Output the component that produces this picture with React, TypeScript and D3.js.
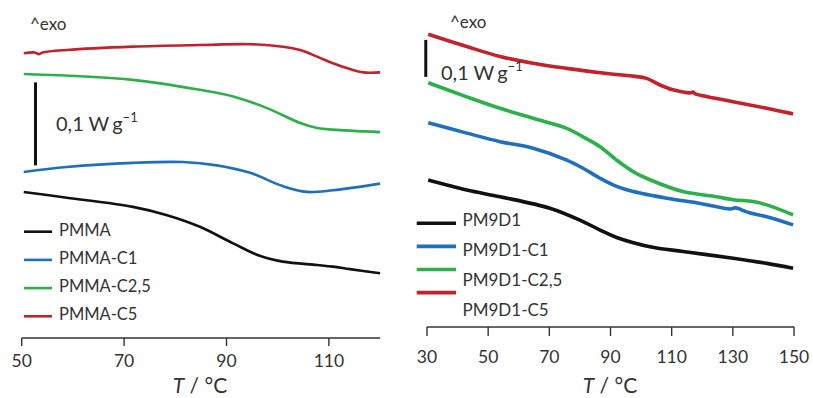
import React from "react";
import * as d3 from "d3";

type P = [number, number];

// Left panel (PMMA series): [T °C, heat flow W/g (offset)]
const pmma: P[] = [[50.4,0.176],[58.8,0.169],[71.7,0.158],[78.4,0.148],[84.8,0.134],[91.3,0.114],[96.5,0.099],[101,0.092],[107.7,0.088],[110.8,0.086],[114.1,0.083],[120,0.078]];
const pmmaC1: P[] = [[50.4,0.2],[58.8,0.206],[71.7,0.211],[81.5,0.212],[88.1,0.208],[94.6,0.199],[101,0.183],[105.7,0.176],[110.8,0.178],[120,0.186]];
const pmmaC25: P[] = [[50.4,0.318],[71.7,0.311],[84.8,0.299],[91.3,0.291],[97.9,0.277],[104.4,0.259],[107.7,0.253],[110.8,0.251],[120,0.248]];
const pmmaC5: P[] = [[50.4,0.343],[52.6,0.344],[53.3,0.342],[54.1,0.344],[58.8,0.347],[71.7,0.351],[84.8,0.353],[94.6,0.354],[101,0.351],[104.4,0.347],[107.7,0.339],[110.8,0.331],[114.1,0.324],[116.7,0.32],[120,0.32]];

// Right panel (PM9D1 series)
const pm9d1: P[] = [[30.4,0.397],[43,0.37],[53.9,0.352],[70.2,0.321],[81,0.285],[86.6,0.262],[92,0.242],[102.9,0.217],[113.7,0.204],[130.1,0.186],[141.1,0.172],[149.7,0.159]];
const pm9d1C1: P[] = [[30.4,0.552],[43,0.524],[53.9,0.501],[64.7,0.483],[75.7,0.451],[81,0.429],[86.6,0.402],[92,0.38],[97.4,0.366],[108.4,0.348],[119.4,0.334],[129.2,0.319],[130.6,0.322],[131.6,0.321],[133,0.316],[135.7,0.308],[141.1,0.298],[149.7,0.276]];
const pm9d1C25: P[] = [[30.4,0.66],[43,0.622],[53.9,0.591],[64.7,0.564],[75.7,0.537],[81,0.514],[86.6,0.487],[92,0.451],[97.4,0.42],[102.9,0.398],[113.7,0.366],[124.7,0.352],[130.1,0.344],[136.6,0.339],[141.1,0.33],[149.7,0.303]];
const pm9d1C5: P[] = [[30.4,0.791],[43,0.758],[53.9,0.731],[64.7,0.713],[75.7,0.699],[86.6,0.687],[97.4,0.678],[101.8,0.672],[106.2,0.654],[110.4,0.641],[116.4,0.633],[117,0.635],[117.6,0.631],[130.1,0.609],[141.1,0.591],[149.7,0.576]];

const leftNames = ["PMMA", "PMMA-C1", "PMMA-C2,5", "PMMA-C5"];
const rightNames = ["PM9D1", "PM9D1-C1", "PM9D1-C2,5", "PM9D1-C5"];
const colors = ["#111111", "#1e6fbf", "#2cb04a", "#c4222b"];
const leftTicks = [50, 70, 90, 110];
const rightTicks = [30, 50, 70, 90, 110, 130, 150];
const scaleBarLeft: P = [52.7, 0.208];
const scaleBarRight: P = [29.6, 0.676];
const scaleBarLen = 0.1;

const FONT = "Lato, 'Open Sans', sans-serif";
const TXT = "#333";

export default function App() {
  const xL = d3.scaleLinear().domain([50, 120]).range([21.7, 380.1]);
  const yL = d3.scaleLinear().domain([0, 0.4]).range([338, 6]);
  const xR = d3.scaleLinear().domain([30, 150]).range([427, 794]);
  const yR = d3.scaleLinear().domain([0, 0.85]).range([327, 12.5]);

  const curve = d3.curveCatmullRom.alpha(0.5);
  const lineL = d3.line<P>().x(d => xL(d[0])).y(d => yL(d[1])).curve(curve);
  const lineR = d3.line<P>().x(d => xR(d[0])).y(d => yR(d[1])).curve(curve);

  const leftSeries = [pmma, pmmaC1, pmmaC25, pmmaC5];
  const rightSeries = [pm9d1, pm9d1C1, pm9d1C25, pm9d1C5];

  return (
    <svg width={813} height={398} style={{ position: "absolute", left: 0, top: 0, background: "#fff" }} fontFamily={FONT}>
      {/* Left panel */}
      <text x={30} y={30} fontSize={17} fill={TXT}>^exo</text>
      {leftSeries.map((s, i) => (
        <path key={i} d={lineL(s) || ""} fill="none" stroke={colors[i]} strokeWidth={2.6} />
      ))}
      <line x1={xL(scaleBarLeft[0])} x2={xL(scaleBarLeft[0])} y1={yL(scaleBarLeft[1])} y2={yL(scaleBarLeft[1] + scaleBarLen)} stroke="#111" strokeWidth={3} />
      <text x={56} y={131} fontSize={20} fill={TXT}>0,1 W<tspan dx={4}>g</tspan><tspan fontSize={13} dy={-9}>−1</tspan></text>
      {leftNames.map((n, i) => (
        <g key={n}>
          <line x1={24} x2={52} y1={231.7 + i * 28.2} y2={231.7 + i * 28.2} stroke={colors[i]} strokeWidth={2.6} />
          <text x={59} y={235.5 + i * 28.2} fontSize={16.5} fill={TXT}>{n}</text>
        </g>
      ))}
      <line x1={xL(50)} x2={xL(120)} y1={338} y2={338} stroke={TXT} strokeWidth={1.4} />
      {leftTicks.map(t => (
        <g key={t}>
          <line x1={xL(t)} x2={xL(t)} y1={338} y2={346} stroke={TXT} strokeWidth={1.4} />
          <text x={xL(t)} y={367} fontSize={17.5} textAnchor="middle" fill={TXT}>{t}</text>
        </g>
      ))}
      <text x={200} y={393} fontSize={21} textAnchor="middle" fill={TXT}><tspan fontStyle="italic">T</tspan> / °C</text>

      {/* Right panel */}
      <text x={450} y={28} fontSize={17} fill={TXT}>^exo</text>
      {rightSeries.map((s, i) => (
        <path key={i} d={lineR(s) || ""} fill="none" stroke={colors[i]} strokeWidth={3.6} />
      ))}
      <line x1={xR(scaleBarRight[0])} x2={xR(scaleBarRight[0])} y1={yR(scaleBarRight[1])} y2={yR(scaleBarRight[1] + scaleBarLen)} stroke="#111" strokeWidth={3} />
      <text x={441} y={79.5} fontSize={20} fill={TXT}>0,1 W<tspan dx={4}>g</tspan><tspan fontSize={13} dy={-9}>−1</tspan></text>
      {rightNames.map((n, i) => (
        <g key={n}>
          <line x1={416.7} x2={456} y1={223.3 + i * 23.1} y2={223.3 + i * 23.1} stroke={colors[i]} strokeWidth={3.6} />
          <text x={462.5} y={225.5 + i * 30} fontSize={17} fill={TXT}>{n}</text>
        </g>
      ))}
      <line x1={xR(30)} x2={xR(150)} y1={327} y2={327} stroke={TXT} strokeWidth={1.4} />
      {rightTicks.map(t => (
        <g key={t}>
          <line x1={xR(t)} x2={xR(t)} y1={327} y2={336} stroke={TXT} strokeWidth={1.4} />
          <text x={xR(t)} y={363} fontSize={17.5} textAnchor="middle" fill={TXT}>{t}</text>
        </g>
      ))}
      <text x={610} y={393} fontSize={21} textAnchor="middle" fill={TXT}><tspan fontStyle="italic">T</tspan> / °C</text>
    </svg>
  );
}
